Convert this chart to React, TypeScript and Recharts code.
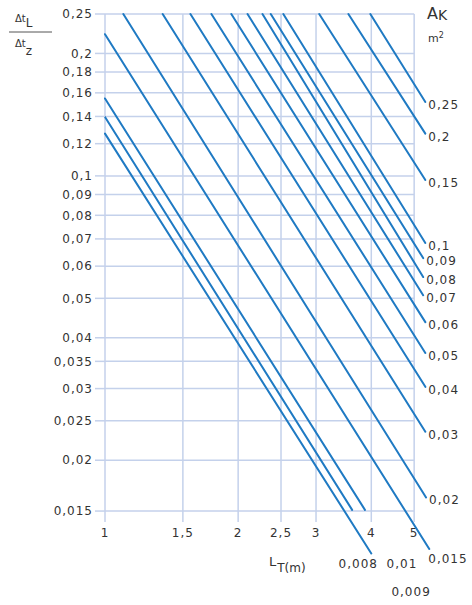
import { Line, LineChart, ReferenceDot, ReferenceLine, XAxis, YAxis } from "recharts";

// A_K curves (m²), each drawn as a straight line in the log-log nomogram
const AREA_LABELS = [
  "0,25", "0,2", "0,15", "0,1", "0,09", "0,08", "0,07", "0,06",
  "0,05", "0,04", "0,03", "0,02", "0,015", "0,01", "0,009", "0,008",
];
const START_L = [3.98, 3.55, 3.05, 2.53, 2.37, 2.27, 2.1, 1.93, 1.74, 1.56, 1.35, 1.1, 1, 1, 1, 1];
const START_RATIO = [
  0.25, 0.25, 0.25, 0.25, 0.25, 0.25, 0.25, 0.25,
  0.25, 0.25, 0.25, 0.25, 0.223, 0.155, 0.1395, 0.127,
];
const END_L = [5.3, 5.3, 5.3, 5.3, 5.24, 5.24, 5.24, 5.3, 5.3, 5.3, 5.3, 5.32, 5.41, 3.87, 3.62, 4.0];
const END_RATIO = [
  0.152, 0.127, 0.0977, 0.0684, 0.0628, 0.0564, 0.0509, 0.0437,
  0.0367, 0.0303, 0.0235, 0.0162, 0.0121, 0.0151, 0.0151, 0.0118,
];

const Y_TICKS = [0.015, 0.02, 0.025, 0.03, 0.035, 0.04, 0.05, 0.06, 0.07, 0.08, 0.09, 0.1, 0.12, 0.14, 0.16, 0.18, 0.2, 0.25];
const X_TICKS = [1, 1.5, 2, 2.5, 3, 4, 5];

const WIDTH = 472;
const HEIGHT = 605;
const LINE_COLOR = "#1f7ac3";
const GRID_COLOR = "#c4d1eb";
const TEXT_COLOR = "#333";
const FONT = "'DejaVu Sans', Verdana, sans-serif";

// label placement relative to the line end: [dx, dy, anchor]
const LABEL_PLACEMENT: Record<string, [number, number, "start" | "middle"]> = {
  "0,015": [-1, 14, "start"],
  "0,01": [37, 58, "middle"],
  "0,009": [59, 86, "middle"],
  "0,008": [-13, 15, "middle"],
};

const fmt = (v: number) => String(v).replace(".", ",");

const series = AREA_LABELS.map((label, i) => ({
  label,
  data: [
    { x: START_L[i], y: START_RATIO[i] },
    { x: END_L[i], y: END_RATIO[i] },
  ],
}));

function EndLabel({ viewBox, text }: any) {
  const [dx, dy, anchor] = LABEL_PLACEMENT[text] ?? [3, 7, "start"];
  return (
    <text
      x={viewBox.x + dx}
      y={viewBox.y + dy}
      textAnchor={anchor}
      fontSize={12}
      letterSpacing={1}
      fill={TEXT_COLOR}
    >
      {text}
    </text>
  );
}

function XTickLabel({ viewBox, text }: any) {
  return (
    <text
      x={viewBox.x}
      y={viewBox.y + viewBox.height + 15}
      textAnchor="middle"
      fontSize={12}
      letterSpacing={1}
      fill={TEXT_COLOR}
    >
      {text}
    </text>
  );
}

export default function App() {
  return (
    <div
      style={{
        position: "absolute",
        left: 0,
        top: 0,
        width: WIDTH,
        height: HEIGHT,
        fontFamily: FONT,
        background: "#fff",
      }}
    >
      <LineChart
        width={WIDTH}
        height={HEIGHT}
        margin={{ top: 14, right: 42, bottom: 47, left: 0 }}
      >
        <XAxis
          type="number"
          dataKey="x"
          scale="log"
          domain={[1, 5.43]}
          hide
          height={0}
        />
        <YAxis
          type="number"
          dataKey="y"
          scale="log"
          domain={[0.0115, 0.25]}
          ticks={Y_TICKS}
          interval={0}
          width={105}
          axisLine={false}
          tickLine={{ stroke: GRID_COLOR, strokeWidth: 1.5 }}
          tickSize={10}
          tickMargin={2}
          tickFormatter={fmt}
          tick={{ fontSize: 12, fill: TEXT_COLOR, letterSpacing: 1 }}
        />
        {Y_TICKS.map((t) => (
          <ReferenceLine
            key={`h${t}`}
            segment={[{ x: 1, y: t }, { x: 5, y: t }]}
            stroke={GRID_COLOR}
            strokeWidth={1.5}
          />
        ))}
        {X_TICKS.map((t) => (
          <ReferenceLine
            key={`v${t}`}
            segment={[{ x: t, y: 0.0141 }, { x: t, y: 0.25 }]}
            stroke={GRID_COLOR}
            strokeWidth={1.5}
            label={(props: any) => <XTickLabel {...props} text={fmt(t)} />}
          />
        ))}
        {series.map((s) => (
          <Line
            key={s.label}
            data={s.data}
            dataKey="y"
            stroke={LINE_COLOR}
            strokeWidth={2}
            strokeLinecap="round"
            dot={false}
            activeDot={false}
            isAnimationActive={false}
          />
        ))}
        {series.map((s) => (
          <ReferenceDot
            key={`lbl${s.label}`}
            x={s.data[1].x}
            y={s.data[1].y}
            r={0}
            fill="none"
            stroke="none"
            label={(props: any) => <EndLabel {...props} text={s.label} />}
          />
        ))}
      </LineChart>

      <svg
        width={WIDTH}
        height={HEIGHT}
        style={{ position: "absolute", left: 0, top: 0, pointerEvents: "none" }}
        fontFamily={FONT}
        fill={TEXT_COLOR}
      >
        {/* y-axis title: Δt_L / Δt_z */}
        <text x={15} y={22} fontSize={10}>
          Δt<tspan fontSize={12} dy={5}>L</tspan>
        </text>
        <line x1={9} y1={32} x2={52} y2={32} stroke="#555" strokeWidth={1} />
        <text x={15} y={47} fontSize={10}>
          Δt<tspan fontSize={12} dy={8}>z</tspan>
        </text>

        {/* A_K m² */}
        <text x={427} y={19} fontSize={16}>
          A<tspan fontSize={14} dy={1}>K</tspan>
        </text>
        <text x={428} y={42} fontSize={11}>
          m<tspan fontSize={8} dy={-4}>2</tspan>
        </text>

        {/* x-axis title: L_T(m) */}
        <text x={269} y={566} fontSize={13}>
          L<tspan fontSize={12} dy={6} dx={1}>T(m)</tspan>
        </text>
      </svg>
    </div>
  );
}
